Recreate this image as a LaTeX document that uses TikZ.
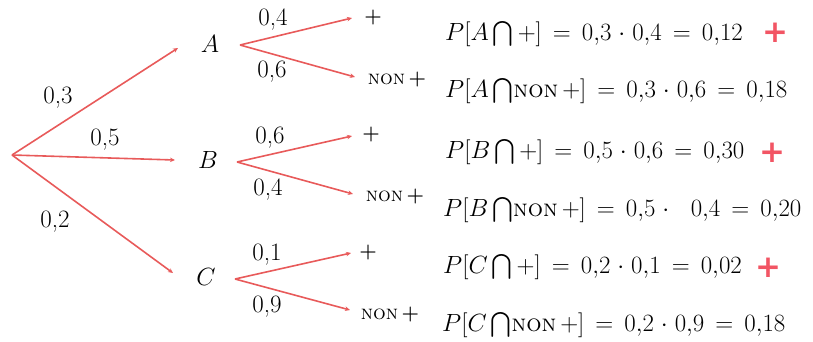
\documentclass[tikz,border=0pt]{standalone}
\usepackage{amsmath}
\usepackage{fontspec}
\newfontfamily\plusfont{DejaVu Sans}
\usetikzlibrary{arrows.meta}
\definecolor{br}{RGB}{232,90,90}
\definecolor{pl}{RGB}{242,85,100}
\newcommand{\nonp}{\textsc{non}\,\textbf{+}}
\newcommand{\ncap}{\mathop{\smash{\textstyle\bigcap}}\nolimits}
\newcommand{\eqsp}{\thickmuskip=8mu\relax\medmuskip=5mu\relax}
\begin{document}
\begin{tikzpicture}[x=1pt,y=-1pt,
  every node/.style={font=\fontsize{25}{28}\selectfont, inner sep=0pt},
  branch/.style={draw=br, line width=1.6pt, -{Stealth[length=5pt,width=4.5pt]}},
  leaf/.style={font=\fontsize{20}{24}\selectfont},
  eq/.style={anchor=west, font=\fontsize{24}{28}\selectfont},
  redplus/.style={text=pl, font=\plusfont\bfseries\fontsize{31}{31}\selectfont}]
\useasboundingbox (0,0) rectangle (813,341);
\coordinate (r) at (12,155);
\coordinate (ae) at (178,48);
\coordinate (be) at (175,160);
\coordinate (ce) at (173,273);
\node (A) at (210,44) {$A$};
\node (B) at (208,160) {$B$};
\node (C) at (206,277) {$C$};
\coordinate (as) at (240,45);
\coordinate (bs) at (237,162);
\coordinate (cs) at (235,279);
\coordinate (a1) at (352,18);
\coordinate (a2) at (355,77);
\coordinate (b1) at (352,136);
\coordinate (b2) at (353,194);
\coordinate (c1) at (351,253);
\coordinate (c2) at (350,310);
\node[leaf] (ap) at (373,18) {\textbf{+}};
\node[leaf] (an) at (397,80) {\nonp};
\node[leaf] (bp) at (371,135) {\textbf{+}};
\node[leaf] (bn) at (395,197) {\nonp};
\node[leaf] (cp) at (368,253) {\textbf{+}};
\node[leaf] (cn) at (390,315) {\nonp};
\draw[branch] (r) -- (ae);
\draw[branch] (r) -- (be);
\draw[branch] (r) -- (ce);
\draw[branch] (as) -- (a1);
\draw[branch] (as) -- (a2);
\draw[branch] (bs) -- (b1);
\draw[branch] (bs) -- (b2);
\draw[branch] (cs) -- (c1);
\draw[branch] (cs) -- (c2);
\node (l1) at (58,98) {0,3};
\node (l2) at (105,140) {0,5};
\node (l3) at (55,222) {0,2};
\node (la1) at (273,20) {0,4};
\node (la2) at (272,72) {0,6};
\node (lb1) at (270,138) {0,6};
\node (lb2) at (268,190) {0,4};
\node (lc1) at (267,255) {0,1};
\node (lc2) at (267,307) {0,9};
\node[eq] (e1) at (445,34) {$\eqsp P[A\ncap+] = 0{,}3 \cdot 0{,}4 = 0{,}12$};
\node[eq] (e2) at (445,91) {$\eqsp P[A\ncap$\textsc{non}\,$\eqsp+] = 0{,}3 \cdot 0{,}6 = 0{,}18$};
\node[eq] (e3) at (445,152) {$\eqsp P[B\ncap+] = 0{,}5 \cdot 0{,}6 = 0{,}30$};
\node[eq] (e4) at (443,210) {$\eqsp P[B\ncap$\textsc{non}\,$\eqsp+] = 0{,}5 \cdot\ \ 0{,}4 = 0{,}20$};
\node[eq] (e5) at (443,267) {$\eqsp P[C\ncap+] = 0{,}2 \cdot 0{,}1 = 0{,}02$};
\node[eq] (e6) at (442,325) {$\eqsp P[C\ncap$\textsc{non}\,$\eqsp+] = 0{,}2 \cdot 0{,}9 = 0{,}18$};
\node[redplus] (p1) at (775,33) {+};
\node[redplus] (p2) at (772,153) {+};
\node[redplus] (p3) at (768,268) {+};
\end{tikzpicture}
\end{document}
